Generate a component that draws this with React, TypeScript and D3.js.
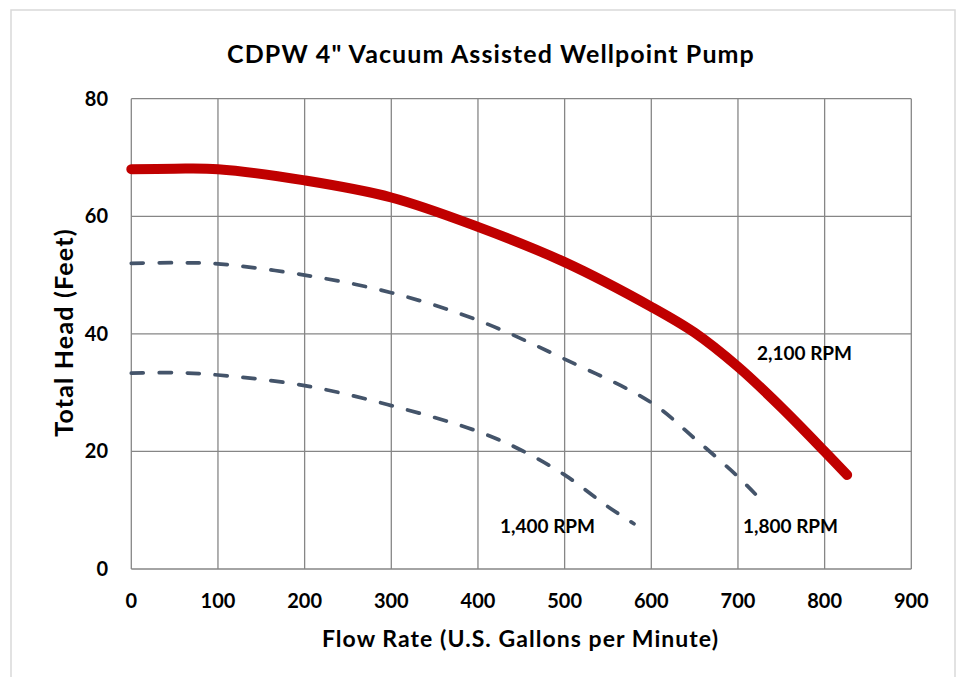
import React from "react";
import * as d3 from "d3";

const xTicks = [0, 100, 200, 300, 400, 500, 600, 700, 800, 900];
const yTicks = [0, 20, 40, 60, 80];

const flow2100 = [0, 50, 100, 200, 300, 400, 500, 600, 650, 700, 750, 800, 826];
const head2100 = [68, 68.1, 68, 66.1, 63.2, 58.2, 52.2, 44.6, 40.2, 34.4, 27.5, 20.0, 16.0];

const flow1800 = [0, 50, 100, 200, 300, 400, 500, 600, 650, 700, 721];
const head1800 = [52, 52.1, 51.9, 50, 47, 42.3, 35.7, 28.3, 22.2, 15.7, 12.6];

const flow1400 = [0, 50, 100, 200, 300, 400, 450, 500, 550, 580];
const head1400 = [33.3, 33.4, 33.0, 31.2, 27.8, 23.4, 20.2, 16.0, 10.6, 7.7];

const seriesLabels = ["2,100 RPM", "1,800 RPM", "1,400 RPM"];

const W = 961;
const H = 677;
const left = 131.3;
const right = 911.3;
const top = 98.7;
const bottom = 569;
const FONT = "Lato, 'Open Sans', sans-serif";

export default function App() {
  const x = d3.scaleLinear().domain([0, 900]).range([left, right]);
  const y = d3.scaleLinear().domain([0, 80]).range([bottom, top]);
  const line = d3
    .line<[number, number]>()
    .x((d) => x(d[0]))
    .y((d) => y(d[1]))
    .curve(d3.curveCatmullRom.alpha(0.5));
  const zip = (a: number[], b: number[]) => a.map((v, i) => [v, b[i]] as [number, number]);
  const grid = "#868686";
  return (
    <svg
      width={W}
      height={H}
      style={{ position: "absolute", left: 0, top: 0, display: "block", background: "#fff" }}
    >
      <rect x={11} y={10} width={944} height={680} fill="#fff" stroke="#d9d9d9" strokeWidth={1.5} />
      <text
        x={491}
        y={63}
        textAnchor="middle"
        fontFamily={FONT}
        fontWeight="bold"
        fontSize={25}
        letterSpacing={1.1}
        fill="#000"
      >
        CDPW 4" Vacuum Assisted Wellpoint Pump
      </text>
      {xTicks.map((t) => (
        <line key={"gx" + t} x1={x(t)} x2={x(t)} y1={top} y2={bottom} stroke={grid} strokeWidth={1.3} />
      ))}
      {yTicks.map((t) => (
        <line key={"gy" + t} x1={left} x2={right} y1={y(t)} y2={y(t)} stroke={grid} strokeWidth={1.3} />
      ))}
      {xTicks.map((t) => (
        <text
          key={"tx" + t}
          x={x(t)}
          y={608}
          textAnchor="middle"
          fontFamily={FONT}
          fontWeight="bold"
          fontSize={20}
          fill="#000"
        >
          {t}
        </text>
      ))}
      {yTicks.map((t) => (
        <text
          key={"ty" + t}
          x={108}
          y={y(t) + 7}
          textAnchor="end"
          fontFamily={FONT}
          fontWeight="bold"
          fontSize={20}
          fill="#000"
        >
          {t}
        </text>
      ))}
      <path
        d={line(zip(flow1400, head1400)) || ""}
        fill="none"
        stroke="#44546a"
        strokeWidth={3.75}
        strokeDasharray="12 16"
        strokeLinecap="round"
      />
      <path
        d={line(zip(flow1800, head1800)) || ""}
        fill="none"
        stroke="#44546a"
        strokeWidth={3.75}
        strokeDasharray="12 16"
        strokeLinecap="round"
      />
      <path
        d={line(zip(flow2100, head2100)) || ""}
        fill="none"
        stroke="#c00000"
        strokeWidth={10}
        strokeLinecap="round"
        strokeLinejoin="round"
      />
      <text x={757} y={360} fontFamily={FONT} fontWeight="bold" fontSize={19} fill="#000">
        {seriesLabels[0]}
      </text>
      <text x={743} y={533} fontFamily={FONT} fontWeight="bold" fontSize={19} fill="#000">
        {seriesLabels[1]}
      </text>
      <text x={500} y={533} fontFamily={FONT} fontWeight="bold" fontSize={19} fill="#000">
        {seriesLabels[2]}
      </text>
      <text
        x={520.5}
        y={647}
        textAnchor="middle"
        fontFamily={FONT}
        fontWeight="bold"
        fontSize={23}
        letterSpacing={1.05}
        fill="#000"
      >
        Flow Rate (U.S. Gallons per Minute)
      </text>
      <text
        transform={`translate(73, 332.5) rotate(-90)`}
        textAnchor="middle"
        fontFamily={FONT}
        fontWeight="bold"
        fontSize={25}
        letterSpacing={1.2}
        fill="#000"
      >
        Total Head (Feet)
      </text>
    </svg>
  );
}
